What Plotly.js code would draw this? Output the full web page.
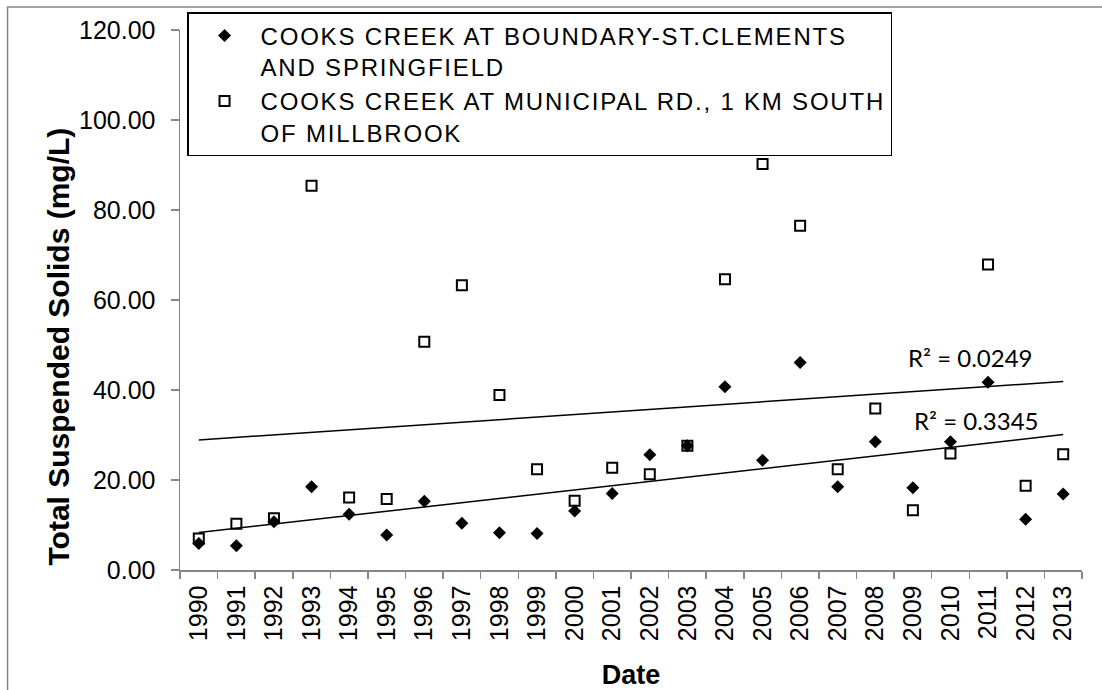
<!DOCTYPE html>
<html>
<head>
<meta charset="utf-8">
<script src="https://cdn.plot.ly/plotly-3.0.1.min.js"></script>
<style>
  html, body { margin: 0; padding: 0; background: #fff; }
  #chart { width: 1102px; height: 690px; }
  /* the original legend text is set a bit wider than plain arial;
     no #chart prefix so plotly's text measuring copy gets it too */
  .legendtext { letter-spacing: 1.8px; }
</style>
</head>
<body>
<div id="chart"></div>
<script>
  const YEARS = ['1990', '1991', '1992', '1993', '1994', '1995', '1996', '1997', '1998', '1999', '2000', '2001',
    '2002', '2003', '2004', '2005', '2006', '2007', '2008', '2009', '2010', '2011', '2012', '2013'];

  // COOKS CREEK AT BOUNDARY-ST.CLEMENTS AND SPRINGFIELD
  const BOUNDARY_TSS = [5.9, 5.4, 10.7, 18.5, 12.4, 7.8, 15.3, 10.4, 8.3, 8.1, 13.1, 17.0,
    25.6, 27.6, 40.7, 24.4, 46.1, 18.5, 28.5, 18.3, 28.5, 41.7, 11.3, 16.9];

  // COOKS CREEK AT MUNICIPAL RD., 1 KM SOUTH OF MILLBROOK
  const MUNICIPAL_TSS = [7.0, 10.3, 11.5, 85.4, 16.1, 15.8, 50.7, 63.3, 38.9, 22.4, 15.4, 22.7,
    21.3, 27.6, 64.6, 90.2, 76.5, 22.4, 35.9, 13.3, 25.9, 67.9, 18.7, 25.7];

  const SERIES_NAMES = [
    'COOKS CREEK AT BOUNDARY-ST.CLEMENTS<br>AND SPRINGFIELD',
    'COOKS CREEK AT MUNICIPAL RD., 1 KM SOUTH<br>OF MILLBROOK'
  ];
  const R2_LABELS = ['R² = 0.3345', 'R² = 0.0249'];

  // least squares line over the category index, like the excel trendline
  function linearFit(values) {
    let n = values.length,
      sx = 0, sy = 0, sxy = 0, sxx = 0;
    for (let i = 0; i < n; i++) {
      sx += i;
      sy += values[i];
      sxy += i * values[i];
      sxx += i * i;
    }
    let slope = (n * sxy - sx * sy) / (n * sxx - sx * sx),
      intercept = (sy - slope * sx) / n;
    return [intercept, intercept + slope * (n - 1)];
  }

  const FONT = 'Liberation Sans, Arial, sans-serif';
  const AXIS_GREY = '#868686';

  let traces = [
    {
      x: YEARS,
      y: BOUNDARY_TSS,
      type: 'scatter',
      mode: 'markers',
      name: SERIES_NAMES[0],
      marker: { symbol: 'diamond', size: 10, color: '#000' },
      cliponaxis: false
    },
    {
      x: YEARS,
      y: MUNICIPAL_TSS,
      type: 'scatter',
      mode: 'markers',
      name: SERIES_NAMES[1],
      marker: { symbol: 'square-open', size: 10, color: '#000', line: { width: 2, color: '#000' } },
      cliponaxis: false
    },
    {
      x: [YEARS[0], YEARS[YEARS.length - 1]],
      y: linearFit(BOUNDARY_TSS),
      type: 'scatter',
      mode: 'lines',
      line: { color: '#000', width: 1.5 },
      showlegend: false,
      hoverinfo: 'skip'
    },
    {
      x: [YEARS[0], YEARS[YEARS.length - 1]],
      y: linearFit(MUNICIPAL_TSS),
      type: 'scatter',
      mode: 'lines',
      line: { color: '#000', width: 1.5 },
      showlegend: false,
      hoverinfo: 'skip'
    }
  ];

  let layout = {
    width: 1102,
    height: 690,
    margin: { l: 180, r: 20, t: 30, b: 120 },
    paper_bgcolor: '#fff',
    plot_bgcolor: '#fff',
    font: { family: FONT, size: 25, color: '#000' },
    showlegend: true,
    legend: {
      x: 0.0078,
      y: 1.0333,
      xanchor: 'left',
      yanchor: 'top',
      bgcolor: '#fff',
      bordercolor: '#000',
      borderwidth: 1.5,
      font: { family: FONT, size: 24, color: '#000' },
      valign: 'top',
      itemwidth: 62,
      tracegroupgap: 0
    },
    xaxis: {
      type: 'category',
      range: [-0.5, 23.5],
      tickson: 'boundaries',
      ticks: 'outside',
      ticklen: 7,
      tickwidth: 1.5,
      tickcolor: AXIS_GREY,
      tickangle: -90,
      ticklabelstandoff: 4,
      showline: true,
      linecolor: AXIS_GREY,
      linewidth: 1.5,
      showgrid: false,
      zeroline: false,
      tickfont: { family: FONT, size: 25 },
      title: { text: 'Date', font: { family: FONT, size: 27, weight: 'bold' }, standoff: 26 }
    },
    yaxis: {
      range: [0, 120],
      dtick: 20,
      tickformat: '.2f',
      ticks: 'outside',
      ticklen: 8,
      tickwidth: 1.5,
      tickcolor: AXIS_GREY,
      ticklabelstandoff: 10,
      showline: true,
      linecolor: AXIS_GREY,
      linewidth: 1.5,
      showgrid: false,
      zeroline: false,
      tickfont: { family: FONT, size: 25 }
    },
    annotations: [
      {
        // y axis title, sits lower than the plot middle in the original
        x: -0.1552, y: 0.413, xref: 'paper', yref: 'paper',
        text: 'Total Suspended Solids (mg/L)', textangle: -90, showarrow: false,
        font: { family: FONT, size: 30, weight: 'bold', color: '#000' }
      },
      {
        x: 20.68, y: 33.3, xref: 'x', yref: 'y',
        text: R2_LABELS[0], showarrow: false,
        font: { family: 'Lato, Carlito, sans-serif', size: 24, color: '#000' }
      },
      {
        x: 20.52, y: 47.3, xref: 'x', yref: 'y',
        text: R2_LABELS[1], showarrow: false,
        font: { family: 'Lato, Carlito, sans-serif', size: 24, color: '#000' }
      }
    ],
    shapes: [
      {
        type: 'rect', xref: 'paper', yref: 'paper', layer: 'below',
        x0: -0.1912, x1: 1.04, y0: -0.3, y1: 1.0424,
        line: { color: AXIS_GREY, width: 1.5 }
      }
    ]
  };

  Plotly.newPlot('chart', traces, layout, { displayModeBar: false, staticPlot: true });
</script>
</body>
</html>
